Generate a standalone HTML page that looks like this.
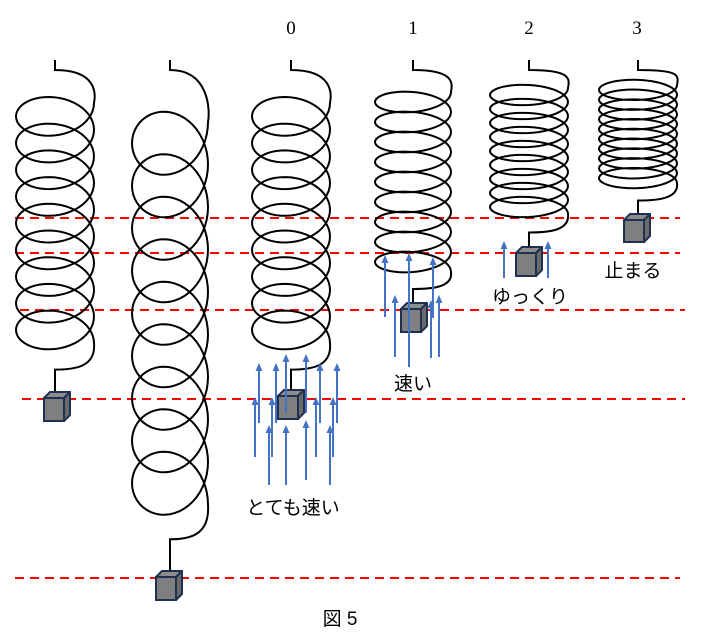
<!DOCTYPE html>
<html><head><meta charset="utf-8">
<style>
html,body{margin:0;padding:0;background:#fff;}
svg{display:block;}
.t{font-family:"Liberation Sans","Noto Sans CJK JP",sans-serif;font-size:19px;fill:#000;}
.n{font-family:"Liberation Serif","Noto Serif CJK SC",serif;font-size:19px;fill:#000;}
</style></head>
<body>
<svg id="s" width="706" height="640" viewBox="0 0 706 640" xmlns="http://www.w3.org/2000/svg">
<g stroke="#ff0000" stroke-width="2" stroke-dasharray="9,6">
<line x1="15" y1="218" x2="680" y2="218"/>
<line x1="15" y1="253" x2="680" y2="253"/>
<line x1="20" y1="310" x2="685" y2="310"/>
<line x1="22" y1="399" x2="685" y2="399"/>
<line x1="15" y1="578" x2="680" y2="578"/>
</g>
<g id="springs" fill="none" stroke="#000" stroke-width="2"></g>
<g id="blocks"></g>
<g id="arrows"></g>
<text class="n" x="291" y="34" text-anchor="middle">0</text>
<text class="n" x="413" y="34" text-anchor="middle">1</text>
<text class="n" x="529" y="34" text-anchor="middle">2</text>
<text class="n" x="637" y="34" text-anchor="middle">3</text>
<text class="t" x="293" y="514" text-anchor="middle">とても速い</text>
<text class="t" x="413" y="390" text-anchor="middle">速い</text>
<text class="t" x="530" y="303" text-anchor="middle">ゆっくり</text>
<text class="t" x="633" y="277" text-anchor="middle">止まる</text>
<text class="t" x="340" y="625" text-anchor="middle">図 5</text>
</svg>
<script>
var NS="http://www.w3.org/2000/svg";
function el(p,tag,a){var e=document.createElementNS(NS,tag);for(var k in a)e.setAttribute(k,a[k]);p.appendChild(e);return e;}
var S=document.getElementById("springs"),B=document.getElementById("blocks"),A=document.getElementById("arrows");
function spring(cx,rx,ry,yc0,p,N,wireEnd){
  var d="M"+cx+",60 L"+cx+",70 C"+(cx+rx+2)+",70 "+(cx+rx+2)+","+(yc0-10)+" "+(cx+rx)+","+yc0;
  var steps=Math.round(N*48);
  for(var i=1;i<=steps;i++){
    var t=i/48*2*Math.PI;
    var x=cx+rx*Math.cos(t), y=yc0+ry*Math.sin(t)+p*t/(2*Math.PI);
    d+=" L"+x.toFixed(2)+","+y.toFixed(2);
  }
  var ye=yc0+p*N;
  var tailY=ye+(wireEnd-ye)*0.5;
  d+=" C"+(cx+rx+2)+","+(ye+(tailY-ye)*0.9)+" "+(cx+rx*0.5)+","+tailY+" "+cx+","+tailY+" L"+cx+","+wireEnd;
  el(S,"path",{d:d});
}
spring(55,39,25.7,103,26.7,9,396);
spring(170,38,41.6,122,42.5,9,574);
spring(291,39,25.7,103,26.7,9,396);
spring(413,38,15,92,20,9,306);
spring(529,39,13.5,88,14,9,251);
spring(638,39,12.5,85,9.8,10,218);
function cube(x,y,w,h){
  var d=6,st="#1f3050";
  el(B,"path",{d:"M"+x+","+y+" L"+(x+d)+","+(y-d)+" L"+(x+w+d)+","+(y-d)+" L"+(x+w)+","+y+"Z",fill:"#8c8c8c",stroke:st,"stroke-width":2,"stroke-linejoin":"round"});
  el(B,"path",{d:"M"+(x+w)+","+y+" L"+(x+w+d)+","+(y-d)+" L"+(x+w+d)+","+(y+h-d)+" L"+(x+w)+","+(y+h)+"Z",fill:"#6a6a6a",stroke:st,"stroke-width":2,"stroke-linejoin":"round"});
  el(B,"rect",{x:x,y:y,width:w,height:h,fill:"#7f7f7f",stroke:st,"stroke-width":2});
}
cube(44,398,20,23);
cube(156,577,20,23);
cube(278,396,20,23);
cube(401,309,20,23);
cube(516,253,20,23);
cube(624,220,20,22);
function arrow(x,y1,y2){
  el(A,"line",{x1:x,y1:y1+6,x2:x,y2:y2,stroke:"#4472c4","stroke-width":2});
  el(A,"path",{d:"M"+(x-3.5)+","+(y1+8)+" L"+x+","+y1+" L"+(x+3.5)+","+(y1+8)+"Z",fill:"#4472c4"});
}
[[255,397,457],[259,363,423],[269,425,485],[272,397,457],[276,363,423],[286,354,413],[286,425,485],
 [306,354,413],[306,420,480],[316,397,457],[320,363,423],[330,425,485],[333,397,457],[337,363,423],
 [385,255,317],[395,295,357],[409,253,367],[431,300,358],[433,257,318],[439,295,357],
 [504,241,278],[548,241,278]].forEach(function(a){arrow(a[0],a[1],a[2]);});
</script>
</body></html>
